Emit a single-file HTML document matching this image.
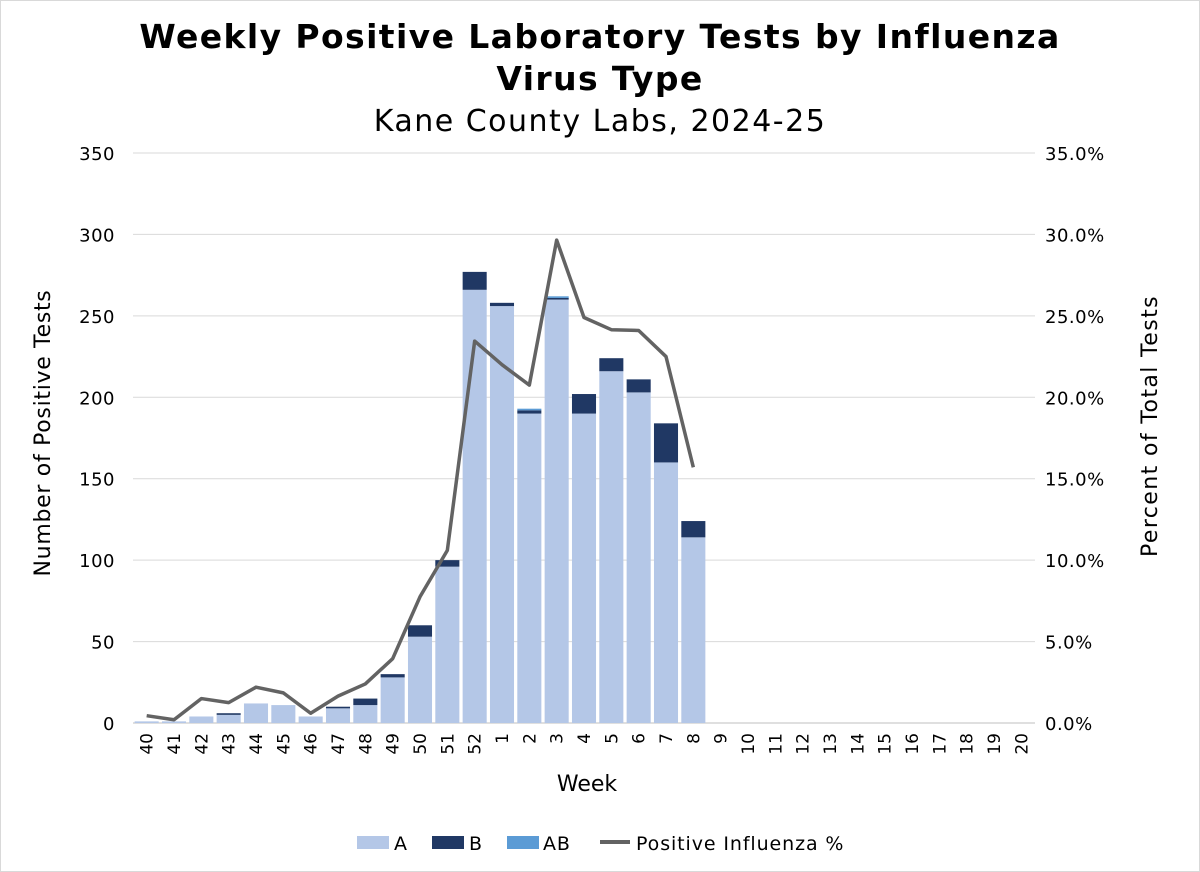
<!DOCTYPE html>
<html><head><meta charset="utf-8"><style>
body{margin:0;background:#fff}
svg{display:block;font-family:"DejaVu Sans","Liberation Sans",sans-serif}
</style></head><body>
<svg id="chart" width="1200" height="872" viewBox="0 0 1200 872">
<rect x="0.5" y="0.5" width="1199" height="871" fill="#fff" stroke="#d9d9d9"/>
<text x="600" y="48" text-anchor="middle" font-size="33" font-weight="bold" letter-spacing="1.4">Weekly Positive Laboratory Tests by Influenza</text>
<text x="600" y="90" text-anchor="middle" font-size="33" font-weight="bold" letter-spacing="1.4">Virus Type</text>
<text x="600" y="131" text-anchor="middle" font-size="30" letter-spacing="1.5">Kane County Labs, 2024-25</text>
<g id="grid"></g><g id="bars"></g><g id="line"></g><g id="axes"></g>
<text transform="translate(50,433) rotate(-90)" text-anchor="middle" font-size="22" letter-spacing="0.7">Number of Positive Tests</text>
<text transform="translate(1157,426) rotate(-90)" text-anchor="middle" font-size="22" letter-spacing="1.4">Percent of Total Tests</text>
<text x="587" y="791" text-anchor="middle" font-size="22">Week</text>
<g font-size="19" letter-spacing="0.9">
<rect x="357" y="836" width="32" height="13" fill="#b4c7e7"/>
<text x="394" y="850">A</text>
<rect x="432" y="836" width="32" height="13" fill="#203864"/>
<text x="469" y="850">B</text>
<rect x="507" y="836" width="32" height="13" fill="#5b9bd5"/>
<text x="543" y="850">AB</text>
<line x1="600" y1="842" x2="630" y2="842" stroke="#636363" stroke-width="4"/>
<text x="636" y="850">Positive Influenza %</text>
</g>
</svg>
<script>
const weeks=["40","41","42","43","44","45","46","47","48","49","50","51","52","1","2","3","4","5","6","7","8","9","10","11","12","13","14","15","16","17","18","19","20"];
const seriesA=[1,1,4,5,12,11,4,9,11,28,53,96,266,256,190,260,190,216,203,160,114];
const seriesB=[0,0,0,1,0,0,0,1,4,2,7,4,11,2,2,1,12,8,8,24,10];
const seriesAB=[0,0,0,0,0,0,0,0,0,0,0,0,0,0,1,1,0,0,0,0,0];
const percent=[0.45,0.2,1.5,1.25,2.2,1.85,0.6,1.65,2.4,3.95,7.75,10.6,23.45,22,20.75,29.65,24.9,24.15,24.1,22.5,15.7];
const yTicks=[0,50,100,150,200,250,300,350];
const y2Ticks=["0.0%","5.0%","10.0%","15.0%","20.0%","25.0%","30.0%","35.0%"];
const NS="http://www.w3.org/2000/svg";
const X0=133,X1=1035,Y0=723,Y1=153,YMAX=350,Y2MAX=35;
const band=(X1-X0)/weeks.length;
const xc=i=>X0+band*(i+0.5);
const y=v=>Y0-v/YMAX*(Y0-Y1);
const y2=v=>Y0-v/Y2MAX*(Y0-Y1);
function mk(tag,attrs,parent,txt){const e=document.createElementNS(NS,tag);for(const k in attrs)e.setAttribute(k,attrs[k]);if(txt!=null)e.textContent=txt;parent.appendChild(e);return e;}
const grid=document.getElementById('grid'),axes=document.getElementById('axes'),bars=document.getElementById('bars'),line=document.getElementById('line');
yTicks.forEach((t,i)=>{
 const g=mk('line',{x1:X0,x2:X1,y1:y(t),y2:y(t),stroke:i===0?'#bfbfbf':'#d9d9d9','stroke-width':1},grid);
 
 
 const l=mk('text',{x:115,y:y(t)+7,'text-anchor':'end','font-size':18,'letter-spacing':0.5},axes,t);
 
 
 const r=mk('text',{x:1045,y:y(t)+7,'font-size':18,'letter-spacing':0.5},axes,y2Ticks[i]);
 
 
});
weeks.forEach((w,i)=>{
 const t=mk('text',{transform:`translate(${xc(i)+6},733) rotate(-90)`,'text-anchor':'end','font-size':17},axes,w);
 
 
});
const bw=band*0.88;
seriesA.forEach((a,i)=>{
 const b=seriesB[i],ab=seriesAB[i];
 const ra=mk('rect',{x:xc(i)-bw/2,y:y(a),width:bw,height:y(0)-y(a),fill:'#b4c7e7'},bars);
 
 
 const rb=mk('rect',{x:xc(i)-bw/2,y:y(a+b),width:bw,height:y(a)-y(a+b),fill:'#203864'},bars);
 
 
 const rab=mk('rect',{x:xc(i)-bw/2,y:y(a+b+ab),width:bw,height:y(a+b)-y(a+b+ab),fill:'#5b9bd5'},bars);
 
 
});
const p=mk('polyline',{points:percent.map((v,i)=>xc(i)+','+y2(v)).join(' '),fill:'none',stroke:'#636363','stroke-width':3.5,'stroke-linejoin':'round'},line);


</script>
</body></html>
